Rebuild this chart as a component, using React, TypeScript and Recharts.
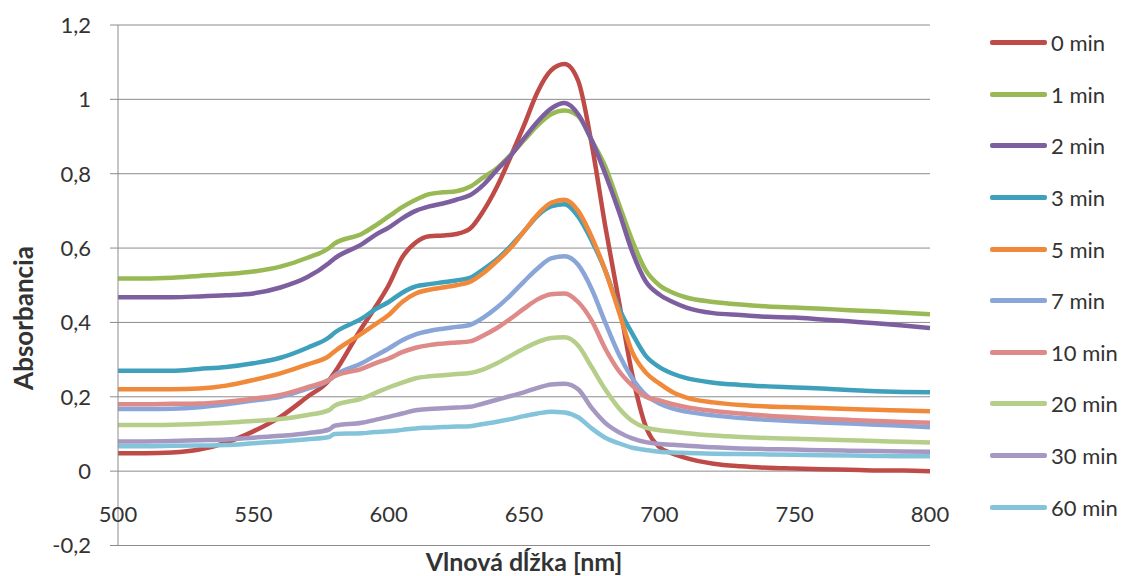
import { LineChart, Line, XAxis, YAxis, CartesianGrid, Legend } from "recharts";

// Absorption spectra, one array per time point.
const WAVELENGTHS = [
  500, 510, 520, 530, 540, 550, 560, 570, 578, 580, 590, 595, 600, 605, 610,
  615, 620, 625, 630, 635, 640, 645, 650, 655, 660, 665, 670, 675, 680, 685,
  690, 695, 700, 705, 710, 720, 730, 740, 750, 760, 770, 780, 790, 800,
];

const MIN_0 = [
  0.048, 0.048, 0.05, 0.058, 0.077, 0.107, 0.146, 0.2, 0.245, 0.265, 0.385,
  0.44, 0.5, 0.575, 0.615, 0.632, 0.634, 0.638, 0.652, 0.7, 0.765, 0.845, 0.93,
  1.02, 1.078, 1.095, 1.05, 0.88, 0.66, 0.46, 0.26, 0.12, 0.065, 0.047, 0.035,
  0.02, 0.013, 0.009, 0.007, 0.005, 0.004, 0.002, 0.002, 0.0,
];
const MIN_1 = [
  0.518, 0.518, 0.52, 0.525, 0.53, 0.537, 0.55, 0.574, 0.6, 0.612, 0.638,
  0.66, 0.685, 0.71, 0.73, 0.745, 0.75, 0.753, 0.765, 0.79, 0.815, 0.85, 0.89,
  0.93, 0.96, 0.97, 0.955, 0.89, 0.82, 0.72, 0.62, 0.54, 0.5, 0.48, 0.467,
  0.455, 0.448, 0.443, 0.44, 0.437, 0.433, 0.43, 0.426, 0.422,
];
const MIN_2 = [
  0.468, 0.468, 0.468, 0.47, 0.473, 0.478, 0.494, 0.522, 0.56, 0.572, 0.61,
  0.635, 0.655, 0.68, 0.7, 0.712, 0.72, 0.73, 0.742, 0.77, 0.81, 0.848, 0.895,
  0.94, 0.975, 0.99, 0.96, 0.89, 0.8, 0.7, 0.59, 0.51, 0.475, 0.455, 0.44,
  0.425, 0.42, 0.415, 0.413, 0.408, 0.403, 0.398, 0.392, 0.385,
];
const MIN_3 = [
  0.27, 0.27, 0.27, 0.275, 0.28, 0.29, 0.305, 0.332, 0.36, 0.372, 0.41, 0.435,
  0.455, 0.48, 0.497, 0.503, 0.508, 0.513, 0.52, 0.543, 0.57, 0.605, 0.645,
  0.687, 0.712, 0.718, 0.685, 0.62, 0.54, 0.44, 0.37, 0.31, 0.28, 0.262, 0.25,
  0.238, 0.232, 0.228, 0.225, 0.222, 0.218, 0.215, 0.213, 0.212,
];
const MIN_5 = [
  0.22, 0.22, 0.22, 0.222, 0.23, 0.245, 0.263, 0.287, 0.31, 0.322, 0.37,
  0.395, 0.42, 0.455, 0.478, 0.488, 0.494, 0.5, 0.509, 0.533, 0.565, 0.6,
  0.645, 0.69, 0.722, 0.73, 0.7, 0.63, 0.54, 0.43, 0.32, 0.265, 0.236, 0.212,
  0.198, 0.185, 0.178, 0.174, 0.172, 0.17, 0.167, 0.165, 0.163, 0.161,
];
const MIN_7 = [
  0.167, 0.167, 0.168, 0.172, 0.18, 0.19, 0.2, 0.222, 0.245, 0.257, 0.29, 0.31,
  0.33, 0.352, 0.368, 0.377, 0.383, 0.388, 0.393, 0.413, 0.44, 0.473, 0.51,
  0.545, 0.572, 0.578, 0.555, 0.49, 0.4, 0.315, 0.25, 0.205, 0.182, 0.168,
  0.16, 0.15, 0.143, 0.138, 0.134, 0.131, 0.128, 0.125, 0.122, 0.118,
];
const MIN_10 = [
  0.18, 0.18, 0.181, 0.182, 0.187, 0.195, 0.205, 0.226, 0.246, 0.255, 0.275,
  0.29, 0.303, 0.32, 0.332, 0.339, 0.343, 0.346, 0.349, 0.365, 0.385, 0.41,
  0.437, 0.462, 0.476, 0.478, 0.455, 0.405, 0.33, 0.27, 0.23, 0.2, 0.19, 0.18,
  0.172, 0.162, 0.155, 0.149, 0.145, 0.141, 0.138, 0.135, 0.132, 0.13,
];
const MIN_20 = [
  0.124, 0.124, 0.125, 0.127, 0.13, 0.135, 0.14, 0.151, 0.164, 0.176, 0.195,
  0.21, 0.225, 0.238, 0.25, 0.255, 0.258, 0.261, 0.264, 0.274, 0.29, 0.31,
  0.33, 0.347, 0.358, 0.36, 0.338, 0.28, 0.22, 0.17, 0.135, 0.117, 0.11,
  0.106, 0.102, 0.096, 0.092, 0.089, 0.087, 0.085, 0.083, 0.081, 0.079, 0.077,
];
const MIN_30 = [
  0.08, 0.08, 0.081, 0.083, 0.085, 0.09, 0.095, 0.102, 0.112, 0.122, 0.13,
  0.138, 0.146, 0.155, 0.164, 0.167, 0.169, 0.171, 0.173, 0.182, 0.192, 0.202,
  0.212, 0.224, 0.233, 0.235, 0.22, 0.17, 0.13, 0.105, 0.088, 0.078, 0.073,
  0.071, 0.068, 0.064, 0.061, 0.059, 0.058, 0.056, 0.055, 0.054, 0.053, 0.052,
];
const MIN_60 = [
  0.067, 0.067, 0.068, 0.069, 0.07, 0.075, 0.08, 0.086, 0.092, 0.1, 0.102,
  0.105, 0.107, 0.111, 0.115, 0.117, 0.119, 0.12, 0.121, 0.127, 0.133, 0.14,
  0.148, 0.155, 0.16, 0.158, 0.145, 0.115, 0.09, 0.075, 0.063, 0.057, 0.052,
  0.05, 0.049, 0.047, 0.046, 0.045, 0.044, 0.043, 0.042, 0.041, 0.04, 0.04,
];

const SERIES_NAMES = [
  "0 min", "1 min", "2 min", "3 min", "5 min",
  "7 min", "10 min", "20 min", "30 min", "60 min",
];
const SERIES_VALUES = [
  MIN_0, MIN_1, MIN_2, MIN_3, MIN_5, MIN_7, MIN_10, MIN_20, MIN_30, MIN_60,
];
const COLORS = [
  "#be4b48", // 0 min
  "#98b954", // 1 min
  "#7d5fa0", // 2 min
  "#3fa0bb", // 3 min
  "#f08a3a", // 5 min
  "#8aa6d8", // 7 min
  "#dd8a88", // 10 min
  "#b5ce8a", // 20 min
  "#a598c2", // 30 min
  "#84c4db", // 60 min
];

const X_TICKS = [500, 550, 600, 650, 700, 750, 800];
const Y_TICKS = [-0.2, 0, 0.2, 0.4, 0.6, 0.8, 1, 1.2];

const FONT = "Lato, 'Open Sans', sans-serif";
const TEXT = "#333333";
const GRID = "#8c8c8c";

type Row = { nm: number } & Record<string, number>;

const data: Row[] = WAVELENGTHS.map((nm, i) => {
  const row: Row = { nm } as Row;
  SERIES_NAMES.forEach((name, s) => {
    row[name] = SERIES_VALUES[s][i];
  });
  return row;
});

// Slovak-style decimal comma on the value axis.
const fmtY = (v: number) => String(Math.round(v * 10) / 10).replace(".", ",");

// Excel puts the category labels just above the bottom edge of the plot.
const XTick = (props: any) => {
  const { x, y, payload } = props;
  return (
    <text
      x={x}
      y={y - 24}
      textAnchor="middle"
      fontSize={22}
      fontFamily={FONT}
      fill={TEXT}
    >
      {payload.value}
    </text>
  );
};

// Recharts sorts legend items by name; keep the series order instead.
const LegendList = (props: any) => {
  const payload = [...(props.payload ?? [])].sort(
    (a: any, b: any) =>
      SERIES_NAMES.indexOf(a.value) - SERIES_NAMES.indexOf(b.value),
  );
  return (
    <div style={{ fontFamily: FONT }}>
      {payload.map((p: any) => (
        <div
          key={p.value}
          style={{ height: 51.6, display: "flex", alignItems: "center" }}
        >
          <span
            style={{
              display: "inline-block",
              width: 57,
              height: 5,
              borderRadius: 2,
              background: p.color,
            }}
          />
          <span style={{ marginLeft: 4, fontSize: 22, color: TEXT }}>
            {p.value}
          </span>
        </div>
      ))}
    </div>
  );
};

export default function App() {
  return (
    <div
      style={{
        position: "absolute",
        left: 0,
        top: 0,
        width: 1131,
        height: 576,
        background: "#ffffff",
        overflow: "hidden",
        fontFamily: FONT,
      }}
    >
      <LineChart
        width={1131}
        height={576}
        data={data}
        margin={{ top: 25, right: 201, left: 0, bottom: 0 }}
      >
        <CartesianGrid vertical={false} stroke={GRID} />
        <XAxis
          dataKey="nm"
          type="number"
          domain={[500, 800]}
          ticks={X_TICKS}
          height={30.5}
          tickLine={false}
          tickSize={0}
          tickMargin={0}
          axisLine={{ stroke: GRID }}
          tick={<XTick />}
        />
        <YAxis
          type="number"
          domain={[-0.2, 1.2]}
          ticks={Y_TICKS}
          width={118}
          tickSize={8}
          tickMargin={19}
          tickLine={{ stroke: GRID }}
          axisLine={{ stroke: GRID }}
          tickFormatter={fmtY}
          tick={{ fontSize: 22, fontFamily: FONT, fill: TEXT }}
          interval={0}
        />
        <Legend
          layout="vertical"
          align="center"
          verticalAlign="middle"
          content={<LegendList />}
          wrapperStyle={{ left: 990, top: 17, width: 141 }}
        />
        {SERIES_NAMES.map((name, i) => (
          <Line
            key={name}
            type="monotone"
            dataKey={name}
            name={name}
            stroke={COLORS[i]}
            strokeWidth={4.5}
            dot={false}
            activeDot={false}
            isAnimationActive={false}
          />
        ))}
      </LineChart>
      <div
        style={{
          position: "absolute",
          left: 23,
          top: 318,
          transform: "translate(-50%, -50%) rotate(-90deg)",
          fontSize: 26,
          fontWeight: 700,
          color: TEXT,
          whiteSpace: "nowrap",
          lineHeight: 1,
        }}
      >
        Absorbancia
      </div>
      <div
        style={{
          position: "absolute",
          left: 524,
          top: 561,
          transform: "translate(-50%, -50%)",
          fontSize: 25,
          fontWeight: 700,
          color: TEXT,
          whiteSpace: "nowrap",
          lineHeight: 1,
        }}
      >
        Vlnová dĺžka [nm]
      </div>
    </div>
  );
}
